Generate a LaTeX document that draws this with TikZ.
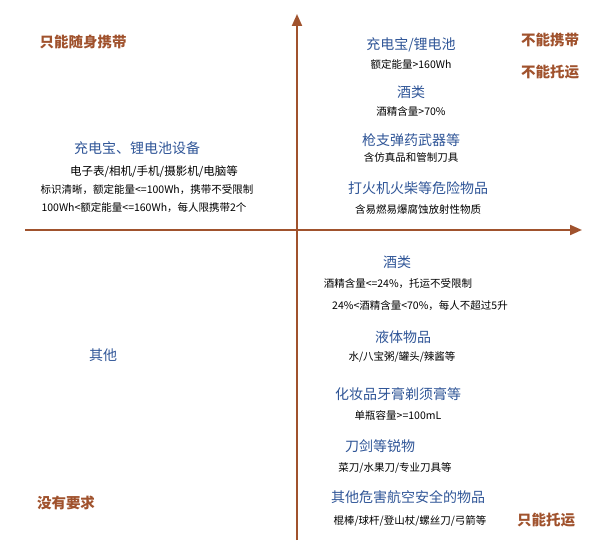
\documentclass[tikz,border=0pt]{standalone}
\usepackage{fontspec}
\setmainfont{Noto Sans CJK SC}
\usetikzlibrary{arrows.meta}
\definecolor{ax}{HTML}{A0522D}
\definecolor{hd}{HTML}{2F5597}
\tikzset{
 corner/.style={text=ax,font=\fontsize{14.5}{16}\selectfont\bfseries},
 head/.style={text=hd,font=\fontsize{14}{16}\selectfont},
 sub/.style={text=black,font=\fontsize{10.5}{12}\selectfont},
 axis/.style={draw=ax,line width=2pt,-{Triangle[length=12pt,width=10pt]}}
}
\begin{document}
\begin{tikzpicture}[x=1pt,y=-1pt]
\useasboundingbox (0,0) rectangle (600,553);
\coordinate (xl) at (25,230); \coordinate (xr) at (582,230);
\coordinate (yb) at (297,540); \coordinate (yt) at (297,14);
\draw[axis] (xl) -- (xr);
\draw[axis] (yb) -- (yt);
\node[corner] (c1) at (83,42) {只能随身携带};
\node[corner] (c2) at (550,40) {不能携带};
\node[corner] (c3) at (550,72) {不能托运};
\node[corner] (c4) at (66,503) {没有要求};
\node[corner] (c5) at (546,520) {只能托运};
\node[head] (a1) at (411,45) {充电宝/锂电池};
\node[sub] (a2) at (411,64) {额定能量>160Wh};
\node[head] (a3) at (411,92) {酒类};
\node[sub] (a4) at (411,111) {酒精含量>70\%};
\node[head] (a5) at (411,140) {枪支弹药武器等};
\node[sub] (a6) at (411,158) {含仿真品和管制刀具};
\node[head] (a7) at (418,188) {打火机火柴等危险物品};
\node[sub] (a8) at (418,210) {含易燃易爆腐蚀放射性物质};
\node[head] (b1) at (137,148) {充电宝、锂电池设备};
\node[sub,font=\fontsize{11.5}{13}\selectfont] (b2) at (154,172) {电子表/相机/手机/摄影机/电脑等};
\node[sub] (b3) at (147,190) {标识清晰，额定能量<=100Wh，携带不受限制};
\node[sub] (b4) at (144,208) {100Wh<额定能量<=160Wh，每人限携带2个};
\node[head] (o1) at (103,355) {其他};
\node[head] (d1) at (397,262) {酒类};
\node[sub] (d2) at (398,284) {酒精含量<=24\%，托运不受限制};
\node[sub] (d3) at (420,306) {24\%<酒精含量<70\%，每人不超过5升};
\node[head] (d4) at (403,337) {液体物品};
\node[sub] (d5) at (402,357) {水/八宝粥/罐头/辣酱等};
\node[head] (d6) at (398,394) {化妆品牙膏剃须膏等};
\node[sub] (d7) at (398,415) {单瓶容量>=100mL};
\node[head] (d8) at (380,446) {刀剑等锐物};
\node[sub] (d9) at (395,468) {菜刀/水果刀/专业刀具等};
\node[head] (d10) at (408,497) {其他危害航空安全的物品};
\node[sub] (d11) at (410,521) {棍棒/球杆/登山杖/螺丝刀/弓箭等};
\end{tikzpicture}
\end{document}
